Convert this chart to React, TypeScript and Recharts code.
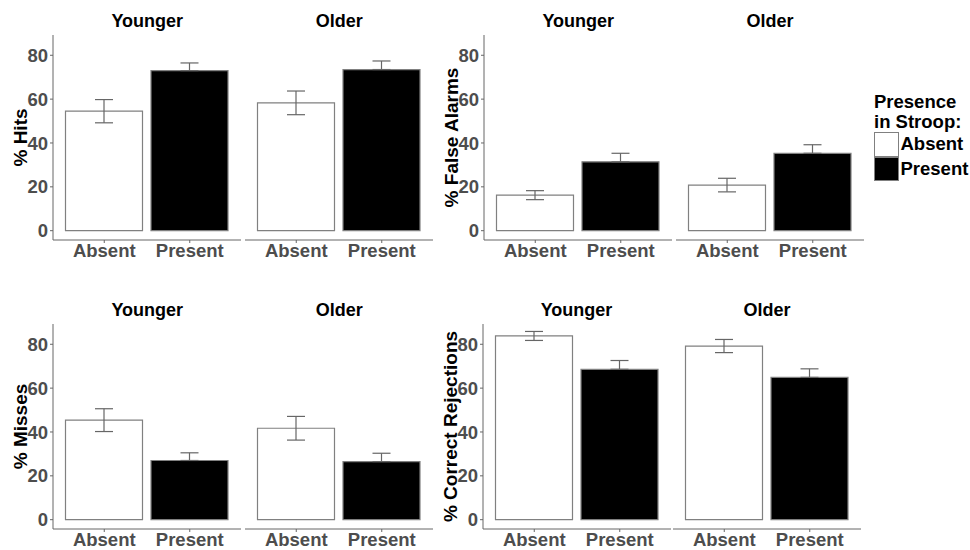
import React from "react";
import { BarChart, Bar, XAxis, YAxis, Cell, ErrorBar, Legend } from "recharts";

// ---------- data ----------
const conditions = ["Absent", "Present"];
const ageGroups = ["Younger", "Older"];
const yTicks = [0, 20, 40, 60, 80];

const hitsYounger = [54.5, 73.0];
const hitsYoungerSE = [5.3, 3.5];
const hitsOlder = [58.3, 73.5];
const hitsOlderSE = [5.4, 3.9];

const falseAlarmsYounger = [16.2, 31.4];
const falseAlarmsYoungerSE = [2.05, 3.9];
const falseAlarmsOlder = [20.8, 35.3];
const falseAlarmsOlderSE = [3.1, 3.9];

const missesYounger = [45.4, 27.0];
const missesYoungerSE = [5.2, 3.5];
const missesOlder = [41.7, 26.5];
const missesOlderSE = [5.4, 3.8];

const correctRejYounger = [83.8, 68.6];
const correctRejYoungerSE = [2.05, 4.0];
const correctRejOlder = [79.2, 64.9];
const correctRejOlderSE = [3.0, 3.9];

// ---------- styling ----------
const FONT = "'Liberation Sans', Arial, Helvetica, sans-serif";
const PANEL_W = 188;
const AXIS_W = 53;
const CHART_H = 270;
const Y_DOMAIN: [number, number] = [-4.25, 89.25];
const fillFor = (c: string) => (c === "Absent" ? "#ffffff" : "#000000");

function buildFacet(values: number[], ses: number[]) {
  // the lower whisker of the filled (black) bars is hidden behind the bar in the original
  return conditions.map((c, i) => ({
    condition: c,
    value: values[i],
    err: c === "Absent" ? [ses[i], ses[i]] : [0, ses[i]],
  }));
}

const YTitle = (props: any) => {
  const vb = props.viewBox && props.viewBox.height ? props.viewBox : { x: 0, y: 35, width: AXIS_W, height: 205 };
  const cx = vb.x + 20;
  const cy = vb.y + vb.height / 2;
  return (
    <text
      x={cx}
      y={cy}
      transform={`rotate(-90 ${cx} ${cy})`}
      textAnchor="middle"
      dominantBaseline="central"
      fill="#000"
      fontSize={19}
      fontWeight={700}
      fontFamily={FONT}
    >
      {props.value}
    </text>
  );
};

const renderLegend = () => (
  <div style={{ fontFamily: FONT, fontWeight: 700, fontSize: 18.5, color: "#000", lineHeight: "20px", width: 110, textAlign: "left" }}>
    <div>Presence</div>
    <div>in Stroop:</div>
    {conditions.map((c) => (
      <div key={c} style={{ display: "flex", alignItems: "center", height: 24.5 }}>
        <span
          style={{
            display: "inline-block",
            width: 24.5,
            height: 24.5,
            boxSizing: "border-box",
            border: "1.2px solid #808080",
            background: fillFor(c),
          }}
        />
        <span style={{ marginLeft: 2 }}>{c}</span>
      </div>
    ))}
  </div>
);

type FacetProps = {
  data: ReturnType<typeof buildFacet>;
  title: string;
  left: number;
  top: number;
  yLabel?: string;
  legend?: boolean;
};

function Facet({ data, title, left, top, yLabel, legend }: FacetProps) {
  const axisW = yLabel ? AXIS_W : 0;
  const width = axisW + PANEL_W;
  return (
    <div style={{ position: "absolute", left: left - axisW, top, width, height: CHART_H }}>
      <div
        style={{
          position: "absolute",
          left: axisW,
          width: PANEL_W,
          top: 9,
          textAlign: "center",
          fontFamily: FONT,
          fontSize: 18,
          fontWeight: 700,
          lineHeight: "24px",
          color: "#000",
        }}
      >
        {title}
      </div>
      <BarChart width={width} height={CHART_H} data={data} margin={{ top: 35, right: 0, bottom: 0, left: 0 }}>
        <XAxis
          dataKey="condition"
          interval={0}
          padding={{ left: 8.5, right: 8.5 }}
          height={30}
          tickSize={3}
          tickMargin={1}
          axisLine={{ stroke: "#666666", strokeWidth: 1 }}
          tickLine={{ stroke: "#666666" }}
          tick={{ fill: "#4d4d4d", fontSize: 18.5, fontWeight: 700, fontFamily: FONT }}
        />
        <YAxis
          hide={!yLabel}
          width={axisW}
          domain={Y_DOMAIN}
          ticks={yTicks}
          allowDataOverflow
          tickSize={3}
          tickMargin={2}
          axisLine={{ stroke: "#666666", strokeWidth: 1 }}
          tickLine={{ stroke: "#666666" }}
          tick={{ fill: "#4d4d4d", fontSize: 18.5, fontWeight: 700, fontFamily: FONT }}
          label={yLabel ? { value: yLabel, content: YTitle } : undefined}
        />
        <Bar dataKey="value" barSize={77} stroke="#808080" strokeWidth={1.2} isAnimationActive={false}>
          {data.map((d) => (
            <Cell key={d.condition} fill={fillFor(d.condition)} />
          ))}
          <ErrorBar dataKey="err" width={9} stroke="#666666" strokeWidth={1.2} direction="y" isAnimationActive={false} />
        </Bar>
        {legend && (
          <Legend
            layout="vertical"
            align="center"
            verticalAlign="middle"
            content={renderLegend}
            wrapperStyle={{ left: 874 - left, top: 92, width: 110, height: 100 }}
          />
        )}
      </BarChart>
    </div>
  );
}

export default function App() {
  return (
    <div style={{ position: "absolute", left: 0, top: 0, width: 970, height: 550, background: "#fff", overflow: "hidden" }}>
      {/* top-left: Hits */}
      <Facet data={buildFacet(hitsYounger, hitsYoungerSE)} title={ageGroups[0]} left={53.3} top={0} yLabel="% Hits" />
      <Facet data={buildFacet(hitsOlder, hitsOlderSE)} title={ageGroups[1]} left={245.3} top={0} />
      {/* top-right: False Alarms */}
      <Facet data={buildFacet(falseAlarmsYounger, falseAlarmsYoungerSE)} title={ageGroups[0]} left={484.3} top={0} yLabel="% False Alarms" />
      <Facet data={buildFacet(falseAlarmsOlder, falseAlarmsOlderSE)} title={ageGroups[1]} left={676} top={0} legend />
      {/* bottom-left: Misses */}
      <Facet data={buildFacet(missesYounger, missesYoungerSE)} title={ageGroups[0]} left={53.3} top={289} yLabel="% Misses" />
      <Facet data={buildFacet(missesOlder, missesOlderSE)} title={ageGroups[1]} left={245.3} top={289} />
      {/* bottom-right: Correct Rejections */}
      <Facet data={buildFacet(correctRejYounger, correctRejYoungerSE)} title={ageGroups[0]} left={482.5} top={289} yLabel="% Correct Rejections" />
      <Facet data={buildFacet(correctRejOlder, correctRejOlderSE)} title={ageGroups[1]} left={673} top={289} />
    </div>
  );
}
